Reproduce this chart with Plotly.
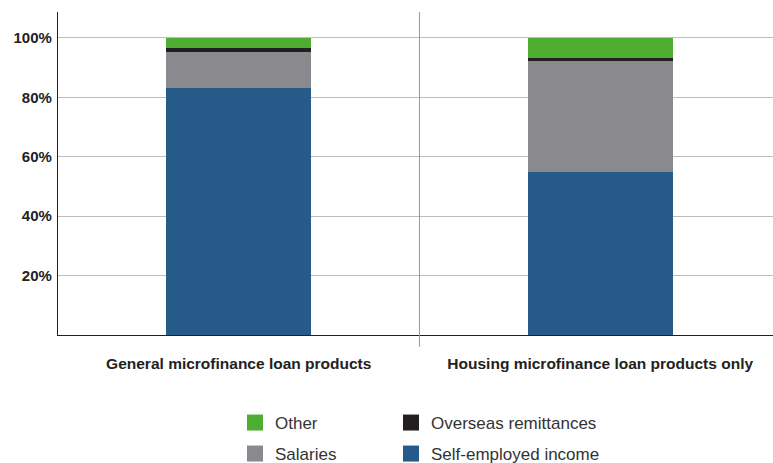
import plotly.graph_objects as go

categories = ["General microfinance loan products", "Housing microfinance loan products only"]
self_employed = [83.0, 55.0]
salaries = [12.2, 37.1]
overseas = [1.3, 1.0]
other = [3.5, 6.9]

series_names = ["Self-employed income", "Salaries", "Overseas remittances", "Other"]
series_values = [self_employed, salaries, overseas, other]
series_colors = ["#255a89", "#8a898e", "#231f20", "#4fad32"]

y_tickvals = [20, 40, 60, 80, 100]
y_ticktext = ["20%", "40%", "60%", "80%", "100%"]

FONT = "Liberation Sans, Arial, sans-serif"

fig = go.Figure()
for name, vals, col in zip(series_names, series_values, series_colors):
    fig.add_trace(go.Bar(x=categories, y=vals, name=name, marker=dict(color=col, line=dict(width=0)),
                         width=0.4, showlegend=False, legendgroup=name))

# legend proxies: one legend per entry, laid out in a 2x2 grid
cmap = dict(zip(series_names, series_colors))
legend_entries = [("legend", "Other", 235, 423), ("legend2", "Overseas remittances", 391, 423),
                  ("legend3", "Salaries", 235, 454), ("legend4", "Self-employed income", 391, 454)]
legend_layout = {}
for lg, n, lx, ly in legend_entries:
    fig.add_trace(go.Scatter(x=[None], y=[None], mode="markers", name=n, legendgroup=n,
                             marker=dict(symbol="square", size=16, color=cmap[n], line=dict(width=0)),
                             legend=lg, showlegend=True))
    legend_layout[lg] = dict(orientation="h", xref="container", yref="container", xanchor="left",
                             yanchor="middle", x=lx / 773, y=1 - ly / 463,
                             font=dict(family=FONT, size=17, color="#333333"),
                             bgcolor="rgba(0,0,0,0)", borderwidth=0)

fig.add_shape(type="line", xref="x", yref="paper", x0=0.5, x1=0.5, y0=-0.037, y1=1,
              line=dict(color="#9a9a9a", width=1))

fig.update_layout(
    width=773, height=463,
    margin=dict(l=58, r=0, t=12, b=128, autoexpand=False),
    plot_bgcolor="white", paper_bgcolor="white",
    barmode="stack",
    xaxis=dict(range=[-0.5, 1.478], showgrid=False, showline=True, linecolor="#231f20", linewidth=1.2,
               ticks="", tickfont=dict(family=FONT, size=15.5, color="#222222", weight="bold"),
               zeroline=False, ticklabelstandoff=14),
    yaxis=dict(range=[0, 108.7], tickvals=y_tickvals, ticktext=y_ticktext, showgrid=True,
               gridcolor="#bdbdbd", gridwidth=1.3, showline=True, linecolor="#231f20", linewidth=1.2,
               zeroline=False, ticks="", tickfont=dict(family=FONT, size=15, color="#222222", weight="bold"),
               ticklabelstandoff=2),
    **legend_layout,
)

fig.write_html("out.html", config={"displayModeBar": False},
               post_script="document.body.style.margin='0';")
